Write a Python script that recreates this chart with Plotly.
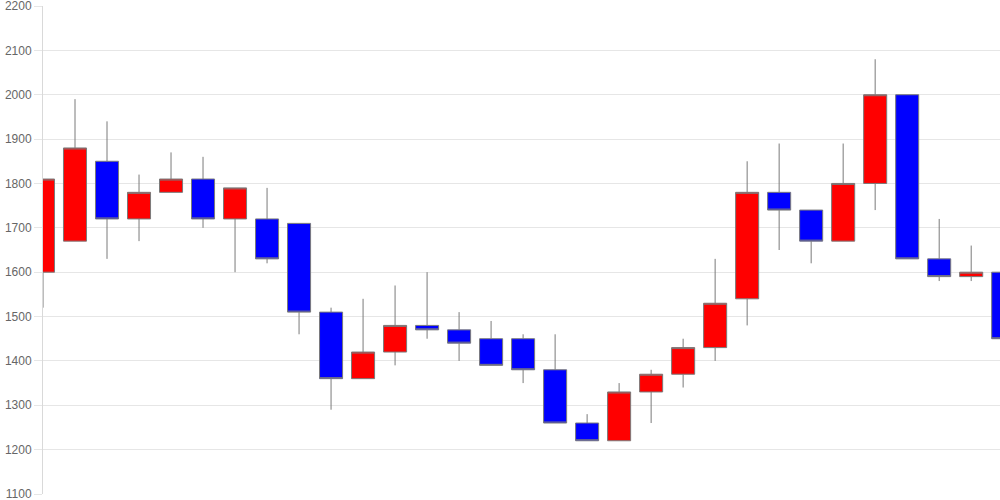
import plotly.graph_objects as go

periods = list(range(31))
open_ = [1600, 1670, 1850, 1720, 1780, 1810, 1720, 1720, 1710, 1510,
         1360, 1420, 1480, 1470, 1450, 1450, 1380, 1260, 1220, 1330,
         1370, 1430, 1540, 1780, 1740, 1670, 1800, 2000, 1630, 1590, 1600]
high = [1810, 1990, 1940, 1820, 1870, 1860, 1790, 1790, 1710, 1520,
        1540, 1570, 1600, 1510, 1490, 1460, 1460, 1280, 1350, 1380,
        1450, 1630, 1850, 1890, 1740, 1890, 2080, 2000, 1720, 1660, 1610]
low = [1520, 1670, 1630, 1670, 1780, 1700, 1600, 1620, 1460, 1290,
       1360, 1390, 1450, 1400, 1390, 1350, 1260, 1220, 1220, 1260,
       1340, 1400, 1480, 1650, 1620, 1670, 1740, 1630, 1580, 1580, 1450]
close = [1810, 1880, 1720, 1780, 1810, 1720, 1790, 1630, 1510, 1360,
         1420, 1480, 1470, 1440, 1390, 1380, 1260, 1220, 1330, 1370,
         1430, 1530, 1780, 1740, 1670, 1800, 2000, 1630, 1590, 1600, 1450]

y_ticks = list(range(1100, 2201, 100))

fig = go.Figure(go.Candlestick(
    x=periods, open=open_, high=high, low=low, close=close,
    increasing=dict(fillcolor="#ff0000", line=dict(color="#7a7a7a", width=1)),
    decreasing=dict(fillcolor="#0000ff", line=dict(color="#7a7a7a", width=1)),
    whiskerwidth=0,
    showlegend=False,
))

fig.update_layout(
    width=1000, height=500,
    margin=dict(l=43, r=0, t=6, b=6, autoexpand=False),
    paper_bgcolor="white", plot_bgcolor="white",
    boxgap=0.28, boxgroupgap=0,
    font=dict(family="Liberation Sans, Arial, sans-serif", size=12, color="#666666"),
    xaxis=dict(range=[0, 29.9], showgrid=False, showticklabels=False,
               rangeslider=dict(visible=False), zeroline=False, ticks="",
               automargin=False),
    yaxis=dict(range=[1100, 2200], tickvals=y_ticks, showgrid=True,
               gridcolor="#e6e6e6", gridwidth=1, zeroline=False,
               showline=True, linecolor="#d9d9d9", linewidth=1,
               ticks="outside", ticklen=8, tickcolor="#e6e6e6",
               ticklabeloverflow="allow",
               tickfont=dict(size=12, color="#666666"), automargin=False),
)

fig.write_html(
    "out.html",
    config={"displayModeBar": False},
    post_script="document.body.style.margin='0';document.body.style.overflow='hidden';",
)
